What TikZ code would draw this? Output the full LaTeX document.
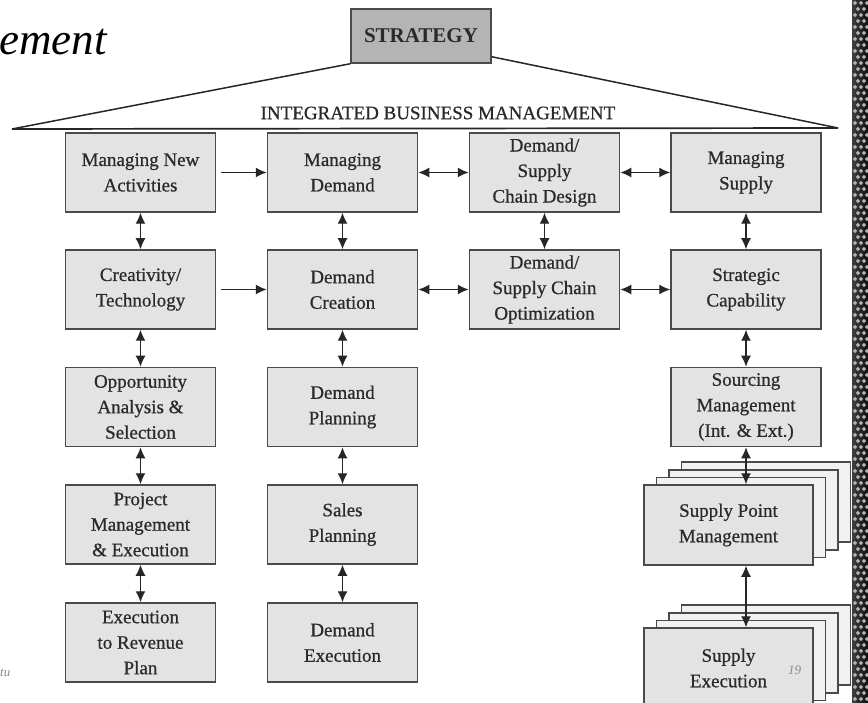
\documentclass[tikz,border=0pt]{standalone}
\usepackage{fontspec}
\setmainfont{Liberation Serif}
\newfontfamily\scanfont{Liberation Serif}[FakeBold=0.7]
\usetikzlibrary{arrows.meta}
\definecolor{boxfill}{HTML}{E3E3E3}
\definecolor{layerfill}{HTML}{F1F1F1}
\definecolor{boxline}{HTML}{4A4A4A}
\definecolor{txt}{HTML}{2A2A2A}
\definecolor{stratfill}{HTML}{B4B4B4}
\begin{document}
\begin{tikzpicture}[x=1pt,y=-1pt,
  box/.style={draw=boxline, line width=1.5pt, fill=boxfill, minimum width=150pt,
    minimum height=79pt, inner sep=0pt, align=center, text=txt,
    font=\scanfont\fontsize{19}{25.5}\selectfont},
  widebox/.style={box, minimum width=169pt, minimum height=80pt},
  layerbox/.style={draw=boxline, line width=1.4pt, fill=layerfill, minimum width=169pt,
    minimum height=80pt, inner sep=0pt},
  conn/.style={line width=1.4pt, draw=black!85, -{Latex[length=11pt,width=10pt]}},
  dconn/.style={line width=1.4pt, draw=black!85, {Latex[length=11pt,width=10pt]}-{Latex[length=11pt,width=10pt]}},
  note/.style={text=black!45, font=\fontsize{13}{15}\itshape\selectfont, inner sep=0pt}
]
\clip (0,0) rectangle (868,703);
\fill[white] (0,0) rectangle (868,703);

% right decorative stripe
\shade[left color=black!75, right color=black!95] (852,0) rectangle (868,703);
\foreach \i in {0,...,117}{
  \foreach \j in {0,1,2}{
    \pgfmathsetmacro{\xx}{855+\j*6+mod(\i,2)*3}
    \pgfmathsetmacro{\yy}{3+\i*6}
    \fill[gray!60] (\xx,\yy-2.2) -- (\xx+2.2,\yy) -- (\xx,\yy+2.2) -- (\xx-2.2,\yy) -- cycle;
  }
}

% title fragment
\node[anchor=base west, inner sep=0pt, font=\fontsize{45}{50}\itshape\selectfont] (title) at (-1,55) {ement};

% strategy and roof
\node[draw=boxline, line width=1.5pt, fill=stratfill, minimum width=140pt, minimum height=54pt,
  inner sep=0pt, text=txt, font=\bfseries\fontsize{21}{24}\selectfont] (strategy) at (421,36) {STRATEGY};
\coordinate (apexL) at (12,129);
\coordinate (apexR) at (838,128);
\draw[line width=1.7pt, black!85] (apexL) -- (apexR);
\draw[line width=1.5pt, black!85] (apexL) -- (strategy.south west);
\draw[line width=1.5pt, black!85] (strategy.south east) ++(0,-7) coordinate (roofR) -- (apexR);
\node[text=txt, font=\scanfont\fontsize{19}{22}\selectfont, inner sep=0pt] (ibm) at (438,113) {INTEGRATED BUSINESS MANAGEMENT};

% row 1
\node[box] (c1r1) at (140.5,172.5) {Managing New\\Activities};
\node[box] (c2r1) at (342.5,172.5) {Managing\\Demand};
\node[box] (c3r1) at (544.5,172.5) {Demand/\\Supply\\Chain Design};
\node[box] (c4r1) at (746,172.5) {Managing\\Supply};
% row 2
\node[box] (c1r2) at (140.5,289.5) {Creativity/\\Technology};
\node[box] (c2r2) at (342.5,289.5) {Demand\\Creation};
\node[box] (c3r2) at (544.5,289.5) {Demand/\\Supply Chain\\Optimization};
\node[box] (c4r2) at (746,289.5) {Strategic\\Capability};
% row 3
\node[box] (c1r3) at (140.5,407) {Opportunity\\Analysis \&\\Selection};
\node[box] (c2r3) at (342.5,407) {Demand\\Planning};
\node[box] (c4r3) at (746,407) {Sourcing\\Management\\(Int. \& Ext.)};
% row 4
\node[box] (c1r4) at (140.5,524.5) {Project\\Management\\\& Execution};
\node[box] (c2r4) at (342.5,524.5) {Sales\\Planning};
% row 5
\node[box] (c1r5) at (140.5,642.5) {Execution\\to Revenue\\Plan};
\node[box] (c2r5) at (342.5,642.5) {Demand\\Execution};

% supply point management stack
\node[layerbox] (spmC) at (766,502) {};
\node[layerbox] (spmB) at (753.5,510) {};
\node[layerbox] (spmA) at (741,517.5) {};
\node[widebox] (spm) at (728.5,525) {Supply Point\\Management};

% supply execution stack
\node[layerbox] (seC) at (766,645) {};
\node[layerbox] (seB) at (753.5,653) {};
\node[layerbox] (seA) at (741,660.5) {};
\node[widebox] (se) at (728.5,668) {Supply\\Execution};

% horizontal connectors
\draw[conn] ([xshift=5pt]c1r1.east) -- (c2r1.west);
\draw[conn] ([xshift=5pt]c1r2.east) -- (c2r2.west);
\draw[dconn] (c2r1.east) -- (c3r1.west);
\draw[dconn] (c2r2.east) -- (c3r2.west);
\draw[dconn] (c3r1.east) -- (c4r1.west);
\draw[dconn] (c3r2.east) -- (c4r2.west);

% vertical connectors
\draw[dconn] (c1r1.south) -- (c1r2.north);
\draw[dconn] (c1r2.south) -- (c1r3.north);
\draw[dconn] (c1r3.south) -- (c1r4.north);
\draw[dconn] (c1r4.south) -- (c1r5.north);
\draw[dconn] (c2r1.south) -- (c2r2.north);
\draw[dconn] (c2r2.south) -- (c2r3.north);
\draw[dconn] (c2r3.south) -- (c2r4.north);
\draw[dconn] (c2r4.south) -- (c2r5.north);
\draw[dconn] (c3r1.south) -- (c3r2.north);
\draw[dconn] (c4r1.south) -- (c4r2.north);
\draw[dconn] (c4r2.south) -- (c4r3.north);
\draw[dconn] (c4r3.south) -- (c4r3.south |- spm.north);
\draw[dconn] (c4r3.south |- spm.south) -- (c4r3.south |- se.north);

% page notes
\node[note, anchor=base west] (tu) at (0,676) {tu};
\node[note, anchor=base west] (pg) at (788,674) {19};
\end{tikzpicture}
\end{document}
